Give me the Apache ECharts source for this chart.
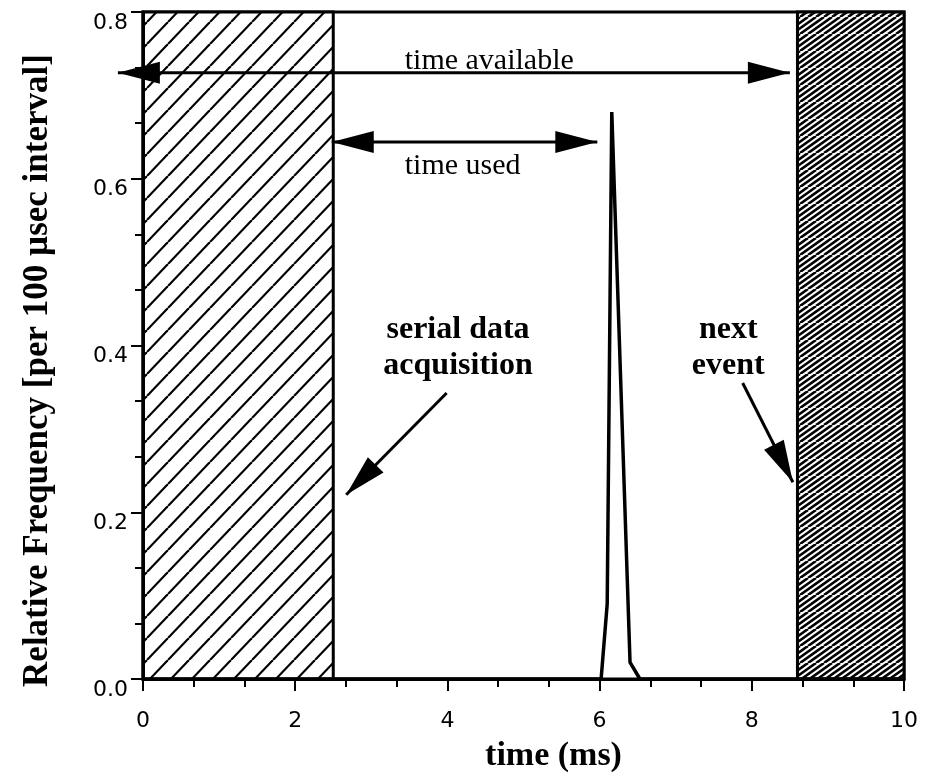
<!DOCTYPE html>
<html>
<head>
<meta charset="utf-8">
<title>time used / time available</title>
<script src="https://cdn.jsdelivr.net/npm/echarts@6/dist/echarts.min.js"></script>
<style>
  html, body { margin: 0; padding: 0; background: #fff; }
  #chart { width: 928px; height: 784px; }
</style>
</head>
<body>
<div id="chart"></div>
<script>
// 数据 - 峰值曲线
var peakX = [0, 6.02, 6.1, 6.16, 6.4, 6.53, 10];
var peakY = [0, 0, 0.09, 0.68, 0.02, 0, 0];
// 刻度
var xTicks = [0, 2, 4, 6, 8, 10];
var yTicks = [0, 0.2, 0.4, 0.6, 0.8];
// 阴影区域 (x 起止)
var busyStart = [0, 8.6];
var busyEnd = [2.5, 10];
// 箭头
var arrowFrom = [[-0.33, 0.727], [2.48, 0.644], [3.99, 0.343], [7.88, 0.355]];
var arrowTo = [[8.5, 0.727], [5.97, 0.644], [2.67, 0.221], [8.54, 0.236]];
var arrowBoth = [true, true, false, false];
// 注释文字
var noteText = ['time available', 'time used', 'serial data\nacquisition', 'next\nevent'];
var noteAt = [[4.55, 0.741], [4.2, 0.615], [4.14, 0.397], [7.69, 0.397]];
var noteBold = [false, false, true, true];

(function () {
  var myChart = echarts.init(document.getElementById('chart'));

  // 斜线填充
  function hatch(w, h, step, lw) {
    var c = document.createElement('canvas');
    c.width = w;
    c.height = h;
    var ctx = c.getContext('2d');
    ctx.fillStyle = '#fff';
    ctx.fillRect(0, 0, w, h);
    ctx.strokeStyle = '#000';
    ctx.lineWidth = lw;
    for (var k = -Math.ceil(w / step) - 1; k <= Math.ceil(w / step) + 1; k++) {
      ctx.beginPath();
      ctx.moveTo(k * step, h);
      ctx.lineTo(k * step + w, 0);
      ctx.stroke();
    }
    return c;
  }
  var hatches = [hatch(21, 22, 21, 2.2), hatch(24, 17, 8, 2.6)];

  var headLen = 42, headWid = 22;
  function head(tip, tail) {
    var dx = tip[0] - tail[0], dy = tip[1] - tail[1];
    var d = Math.sqrt(dx * dx + dy * dy);
    var ux = dx / d, uy = dy / d;
    var bx = tip[0] - ux * headLen, by = tip[1] - uy * headLen;
    return {
      type: 'polygon',
      shape: { points: [tip, [bx - uy * headWid / 2, by + ux * headWid / 2], [bx + uy * headWid / 2, by - ux * headWid / 2]] },
      style: { fill: '#000' }
    };
  }

  var serif = '"Liberation Serif", "Times New Roman", serif';
  var sans = '"DejaVu Sans", sans-serif';

  var option = {
    animation: false,
    grid: {
      left: 143,
      right: 24,
      top: 12,
      bottom: 105,
      show: true,
      borderColor: '#000',
      borderWidth: 3,
      backgroundColor: 'transparent'
    },
    xAxis: {
      type: 'value',
      min: xTicks[0],
      max: xTicks[xTicks.length - 1],
      interval: 2,
      z: 10,
      name: 'time (ms)',
      nameLocation: 'middle',
      nameGap: 60,
      nameTextStyle: {
        fontFamily: serif,
        fontWeight: 'bold',
        fontSize: 34,
        color: '#000',
        padding: [0, 0, 0, 60]
      },
      axisLine: { lineStyle: { color: '#000', width: 3 } },
      axisTick: { length: 12, lineStyle: { color: '#000', width: 2 } },
      minorTick: { show: true, splitNumber: 3, length: 8, lineStyle: { color: '#000', width: 2 } },
      splitLine: { show: false },
      axisLabel: { margin: 31, fontSize: 22, fontFamily: sans, color: '#000' }
    },
    yAxis: {
      type: 'value',
      min: yTicks[0],
      max: yTicks[yTicks.length - 1],
      interval: 0.2,
      z: 10,
      name: 'Relative Frequency [per 100 \u00b5sec interval]',
      nameLocation: 'middle',
      nameGap: 88,
      nameTextStyle: {
        fontFamily: serif,
        fontWeight: 'bold',
        fontSize: 35,
        color: '#000',
        padding: [0, 50, 0, 0]
      },
      axisLine: { lineStyle: { color: '#000', width: 3 } },
      axisTick: { length: 12, lineStyle: { color: '#000', width: 2 } },
      minorTick: { show: true, splitNumber: 3, length: 8, lineStyle: { color: '#000', width: 2 } },
      splitLine: { show: false },
      axisLabel: {
        margin: 15,
        verticalAlign: 'top',
        fontSize: 22,
        fontFamily: sans,
        color: '#000',
        formatter: function (v) { return v.toFixed(1); }
      }
    },
    series: [
      {
        name: 'peak',
        type: 'line',
        data: peakX.map(function (x, i) { return [x, peakY[i]]; }),
        symbol: 'none',
        lineStyle: { color: '#000', width: 3.5 },
        z: 5,
        markArea: {
          silent: true,
          data: busyStart.map(function (s, i) {
            return [
              { xAxis: s, yAxis: yTicks[0], itemStyle: { color: { image: hatches[i], repeat: 'repeat' }, borderColor: '#000', borderWidth: 3 } },
              { xAxis: busyEnd[i], yAxis: yTicks[yTicks.length - 1] }
            ];
          })
        }
      },
      {
        name: 'arrows',
        type: 'custom',
        silent: true,
        clip: false,
        z: 6,
        encode: { x: [0, 2], y: [1, 3] },
        data: arrowFrom.map(function (f, i) {
          return [f[0], f[1], arrowTo[i][0], arrowTo[i][1], arrowBoth[i] ? 1 : 0];
        }),
        renderItem: function (params, api) {
          var p1 = api.coord([api.value(0), api.value(1)]);
          var p2 = api.coord([api.value(2), api.value(3)]);
          var kids = [{
            type: 'line',
            shape: { x1: p1[0], y1: p1[1], x2: p2[0], y2: p2[1] },
            style: { stroke: '#000', lineWidth: 3 }
          }, head(p2, p1)];
          if (api.value(4) === 1) kids.push(head(p1, p2));
          return { type: 'group', children: kids };
        }
      },
      {
        name: 'notes',
        type: 'custom',
        silent: true,
        clip: false,
        z: 7,
        data: noteAt.map(function (p, i) { return [p[0], p[1], i]; }),
        renderItem: function (params, api) {
          var i = api.value(2);
          var p = api.coord([api.value(0), api.value(1)]);
          return {
            type: 'text',
            style: {
              text: noteText[i],
              x: p[0],
              y: p[1],
              align: 'center',
              verticalAlign: 'middle',
              fontFamily: serif,
              fontWeight: noteBold[i] ? 'bold' : 'normal',
              fontSize: noteBold[i] ? 32 : 30,
              lineHeight: 36,
              fill: '#000'
            }
          };
        }
      }
    ]
  };

  myChart.setOption(option);
  window.addEventListener('resize', function () { myChart.resize(); });
})();
</script>
</body>
</html>
